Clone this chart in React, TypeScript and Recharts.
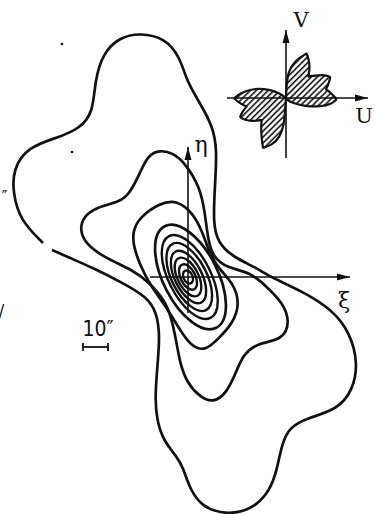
import { ScatterChart, Scatter, XAxis, YAxis } from 'recharts';

// Sky-plane isophotes, offsets from the nucleus in arcsec (ξ to the right, η up)
const outerContour = [
  { x: -54.4, y: 10.8 }, { x: -47.2, y: 7.6 }, { x: -38.0, y: 3.6 }, { x: -26.0, y: -2.4 },
  { x: -16.4, y: -8.0 }, { x: -12.4, y: -14.4 }, { x: -11.2, y: -24.0 }, { x: -12.4, y: -37.2 },
  { x: -13.2, y: -49.2 }, { x: -12.4, y: -57.2 }, { x: -10.0, y: -65.2 }, { x: -4.4, y: -72.0 },
  { x: -2.0, y: -76.0 }, { x: 0.8, y: -85.2 }, { x: 6.0, y: -92.0 }, { x: 12.8, y: -94.4 },
  { x: 20.8, y: -94.4 }, { x: 27.6, y: -91.2 }, { x: 32.8, y: -85.2 }, { x: 35.6, y: -77.2 },
  { x: 37.6, y: -66.4 }, { x: 40.8, y: -60.0 }, { x: 47.6, y: -56.4 }, { x: 59.6, y: -53.2 },
  { x: 66.0, y: -45.2 }, { x: 68.0, y: -34.4 }, { x: 64.8, y: -22.4 }, { x: 58.0, y: -13.2 },
  { x: 44.8, y: -5.2 }, { x: 32.8, y: 0.0 }, { x: 27.6, y: 3.6 }, { x: 18.0, y: 8.0 },
  { x: 12.0, y: 13.6 }, { x: 10.0, y: 21.6 }, { x: 10.8, y: 36.8 }, { x: 11.6, y: 50.8 },
  { x: 10.0, y: 60.0 }, { x: 4.8, y: 69.6 }, { x: -0.4, y: 78.0 }, { x: -3.2, y: 88.0 },
  { x: -9.2, y: 95.6 }, { x: -19.2, y: 97.6 }, { x: -27.2, y: 96.0 }, { x: -34.0, y: 89.6 },
  { x: -37.2, y: 78.8 }, { x: -38.0, y: 65.6 }, { x: -43.2, y: 59.6 }, { x: -51.2, y: 56.0 },
  { x: -64.4, y: 52.0 }, { x: -70.0, y: 42.8 }, { x: -70.0, y: 33.6 }, { x: -67.2, y: 22.8 },
  { x: -58.0, y: 13.6 },
];

const contour2 = [
  { x: -11.2, y: 50.8 }, { x: -6.0, y: 49.6 }, { x: -1.2, y: 45.6 }, { x: 4.8, y: 36.0 },
  { x: 6.8, y: 25.6 }, { x: 8.0, y: 14.8 }, { x: 10.0, y: 8.0 }, { x: 15.6, y: 3.6 },
  { x: 24.8, y: 2.0 }, { x: 31.6, y: -4.0 }, { x: 38.0, y: -10.4 }, { x: 40.8, y: -18.0 },
  { x: 38.0, y: -25.2 }, { x: 27.6, y: -26.4 }, { x: 22.0, y: -31.2 }, { x: 19.6, y: -37.2 },
  { x: 15.6, y: -46.4 }, { x: 10.0, y: -50.4 }, { x: 4.8, y: -48.0 }, { x: -0.4, y: -42.4 },
  { x: -3.2, y: -34.4 }, { x: -4.4, y: -27.2 }, { x: -6.0, y: -19.2 }, { x: -8.4, y: -10.4 },
  { x: -15.2, y: -2.4 }, { x: -22.0, y: 2.8 }, { x: -34.0, y: 8.0 }, { x: -41.2, y: 13.6 },
  { x: -43.2, y: 18.8 }, { x: -42.0, y: 24.0 }, { x: -36.4, y: 28.0 }, { x: -27.2, y: 30.0 },
  { x: -23.2, y: 33.6 }, { x: -19.2, y: 41.6 }, { x: -16.0, y: 48.8 },
];

const contour3 = [
  { x: -4.4, y: 30.8 }, { x: 2.0, y: 25.6 }, { x: 6.0, y: 17.6 }, { x: 8.8, y: 8.8 },
  { x: 12.8, y: 2.8 }, { x: 18.0, y: -2.4 }, { x: 20.8, y: -10.4 }, { x: 18.0, y: -18.4 },
  { x: 12.8, y: -24.0 }, { x: 6.8, y: -30.0 }, { x: 0.8, y: -27.2 }, { x: -3.2, y: -21.2 },
  { x: -9.2, y: -11.2 }, { x: -15.2, y: -3.2 }, { x: -19.2, y: 4.8 }, { x: -22.0, y: 12.8 },
  { x: -22.0, y: 18.8 }, { x: -19.2, y: 24.0 }, { x: -11.2, y: 29.6 },
];

const contour4 = [
  { x: 12.4, y: -22.5 }, { x: 16.7, y: -12.1 }, { x: 11.8, y: 5.5 }, { x: 0.6, y: 19.8 },
  { x: -10.4, y: 22.5 }, { x: -14.7, y: 12.1 }, { x: -9.8, y: -5.5 }, { x: 1.4, y: -19.8 },
];
const contour5 = [
  { x: 9.9, y: -18.1 }, { x: 13.1, y: -9.8 }, { x: 9.0, y: 4.2 }, { x: 0.1, y: 15.8 },
  { x: -8.5, y: 18.1 }, { x: -11.7, y: 9.8 }, { x: -7.6, y: -4.2 }, { x: 1.3, y: -15.8 },
];
const contour6 = [
  { x: 7.9, y: -14.7 }, { x: 10.6, y: -7.9 }, { x: 7.4, y: 3.5 }, { x: 0.1, y: 12.8 },
  { x: -6.9, y: 14.7 }, { x: -9.6, y: 7.9 }, { x: -6.4, y: -3.5 }, { x: 0.9, y: -12.8 },
];
const contour7 = [
  { x: 5.9, y: -11.3 }, { x: 8.0, y: -6.0 }, { x: 5.6, y: 2.7 }, { x: 0.0, y: 9.9 },
  { x: -5.5, y: 11.3 }, { x: -7.6, y: 6.0 }, { x: -5.2, y: -2.7 }, { x: 0.4, y: -9.9 },
];
const contour8 = [
  { x: 4.2, y: -8.3 }, { x: 5.9, y: -4.4 }, { x: 4.1, y: 2.1 }, { x: -0.1, y: 7.4 },
  { x: -4.2, y: 8.3 }, { x: -5.9, y: 4.4 }, { x: -4.1, y: -2.1 }, { x: 0.1, y: -7.4 },
];
const contour9 = [
  { x: 2.7, y: -5.4 }, { x: 4.0, y: -2.8 }, { x: 2.9, y: 1.5 }, { x: 0.2, y: 4.9 },
  { x: -2.7, y: 5.4 }, { x: -4.0, y: 2.8 }, { x: -2.9, y: -1.5 }, { x: -0.2, y: -4.9 },
];
const contour10 = [
  { x: 1.4, y: -2.7 }, { x: 2.2, y: -1.3 }, { x: 1.8, y: 0.9 }, { x: 0.3, y: 2.6 },
  { x: -1.4, y: 2.7 }, { x: -2.2, y: 1.3 }, { x: -1.8, y: -0.9 }, { x: -0.3, y: -2.6 },
];
const innerContours = [contour3, contour4, contour5, contour6, contour7, contour8, contour9, contour10];

const xiAxis = [{ x: -15.2, y: 0 }, { x: 64.8, y: 0 }];
const etaAxis = [{ x: 0, y: -14.4 }, { x: 0, y: 52 }];
const scaleBar = [{ x: -42, y: -28 }, { x: -32, y: -28 }];
const specks = [{ x: -50.4, y: 93.2 }, { x: -46.4, y: 50.0 }];

const axisLabels = [
  { x: 62.4, y: -9.2, text: 'ξ' },
  { x: 5.2, y: 53.2, text: 'η' },
];
const scaleLabel = [{ x: -36.0, y: -20.8, text: '10″' }];
const edgeLabels = [
  { x: -73.4, y: 32.4, text: '″' },
  { x: -74.6, y: -13.2, text: '/' },
];

// Velocity-plane inset (U, V), arbitrary units.
// Notch and tip vertices are repeated so the B-spline keeps the petal corners.
const lobeNE = [
  { x: 0, y: 0 }, { x: 0, y: 0 }, { x: 0.3, y: 7.3 }, { x: 1.2, y: 13.2 }, { x: 3.7, y: 17.3 },
  { x: 7, y: 20.3 }, { x: 10.3, y: 22.3 }, { x: 10.3, y: 22.3 }, { x: 11.5, y: 19 },
  { x: 11.9, y: 14.8 }, { x: 11.2, y: 10.7 }, { x: 11.2, y: 10.7 }, { x: 11.2, y: 10.7 },
  { x: 14.5, y: 11.2 }, { x: 18.7, y: 11.7 }, { x: 22.2, y: 10.6 }, { x: 22.2, y: 10.6 },
  { x: 21.4, y: 7.3 }, { x: 20, y: 4.3 }, { x: 20, y: 4.3 }, { x: 20, y: 4.3 },
  { x: 22.2, y: 2.8 }, { x: 25.4, y: -0.6 }, { x: 25.4, y: -0.6 }, { x: 22.8, y: -3.1 },
  { x: 17, y: -4.4 }, { x: 9.5, y: -4.1 }, { x: 3.7, y: -2.7 }, { x: 0.3, y: -1 },
];
const lobeSW = [
  { x: 0, y: 0 }, { x: 0, y: 0 }, { x: -0.5, y: -6 }, { x: -1, y: -13.5 }, { x: -3, y: -19.5 },
  { x: -7, y: -23.5 }, { x: -11.5, y: -25 }, { x: -11.5, y: -25 }, { x: -12.2, y: -20 },
  { x: -12.5, y: -15 }, { x: -12.2, y: -11 }, { x: -12.2, y: -11 }, { x: -12.2, y: -11 },
  { x: -16, y: -11.6 }, { x: -20, y: -11.2 }, { x: -23, y: -9.6 }, { x: -23, y: -9.6 },
  { x: -21.7, y: -6.6 }, { x: -19.7, y: -4.3 }, { x: -19.7, y: -4.3 }, { x: -19.7, y: -4.3 },
  { x: -23, y: -2.7 }, { x: -26, y: -0.2 }, { x: -26, y: -0.2 }, { x: -23, y: 2.4 },
  { x: -16.4, y: 4.9 }, { x: -8, y: 4.3 }, { x: -3, y: 2.3 },
];
const uAxis = [{ x: -29.5, y: 0 }, { x: 41, y: 0 }];
const vAxis = [{ x: 0, y: -30 }, { x: 0, y: 34 }];
const uvLabels = [
  { x: 7.5, y: 39, text: 'V' },
  { x: 39, y: -9, text: 'U' },
];

const noDot = () => <g />;
const contourLine = { stroke: '#111', strokeWidth: 2.7, fill: 'none' };
const thinLine = { stroke: '#111', strokeWidth: 1.6, fill: 'none' };
const lobeLine = { stroke: '#111', strokeWidth: 2.2, strokeLinejoin: 'round', fill: 'url(#hatch)' };

const arrowRight = (p: any) => (
  <path d={`M${p.cx},${p.cy} l-13,-3.5 l0,7 z`} fill="#111" />
);
const arrowUp = (p: any) => (
  <path d={`M${p.cx},${p.cy} l-3.5,13 l7,0 z`} fill="#111" />
);
const barEnd = (p: any) => (
  <line x1={p.cx} x2={p.cx} y1={p.cy - 4} y2={p.cy + 4} stroke="#111" strokeWidth={1.8} />
);
const speck = (p: any) => <circle cx={p.cx} cy={p.cy} r={1.3} fill="#111" />;

const textShape = (size: number, family: string) => (p: any) => (
  <text
    x={p.cx}
    y={p.cy}
    fontSize={size}
    fontFamily={family}
    textAnchor="middle"
    dominantBaseline="central"
    fill="#111"
  >
    {p.payload.text}
  </text>
);

const serif = '"DejaVu Serif", "Liberation Serif", serif';
const narrow = '"Liberation Sans Narrow", "DejaVu Sans Condensed", sans-serif';

export default function App() {
  return (
    <div style={{ position: 'absolute', left: 0, top: 0, width: 375, height: 514, background: '#fff' }}>
      <ScatterChart width={375} height={514} margin={{ top: 0, right: 0, bottom: 0, left: 0 }}>
        <defs>
          <pattern id="hatch" width="4.2" height="4.2" patternUnits="userSpaceOnUse" patternTransform="rotate(45)">
            <line x1="1.5" y1="0" x2="1.5" y2="4.2" stroke="#111" strokeWidth="1.6" />
          </pattern>
        </defs>
        <XAxis xAxisId="sky" type="number" dataKey="x" domain={[-75.2, 74.8]} allowDataOverflow hide />
        <YAxis yAxisId="sky" type="number" dataKey="y" domain={[-94.8, 110.8]} allowDataOverflow hide />
        <XAxis xAxisId="uv" type="number" dataKey="x" domain={[-143, 44.5]} allowDataOverflow hide />
        <YAxis yAxisId="uv" type="number" dataKey="y" domain={[-208, 49]} allowDataOverflow hide />

        <Scatter xAxisId="sky" yAxisId="sky" data={outerContour} line={contourLine} lineJointType="basis" shape={noDot} isAnimationActive={false} />
        <Scatter xAxisId="sky" yAxisId="sky" data={contour2} line={contourLine} lineJointType="basisClosed" shape={noDot} isAnimationActive={false} />
        {innerContours.map((c, i) => (
          <Scatter
            key={`ring-${i}`}
            xAxisId="sky"
            yAxisId="sky"
            data={c}
            line={i < 2 ? contourLine : { ...contourLine, strokeWidth: 2.4 }}
            lineJointType="basisClosed"
            shape={noDot}
            isAnimationActive={false}
          />
        ))}

        <Scatter xAxisId="sky" yAxisId="sky" data={xiAxis} line={thinLine} shape={noDot} isAnimationActive={false} />
        <Scatter xAxisId="sky" yAxisId="sky" data={[xiAxis[1]]} shape={arrowRight} isAnimationActive={false} />
        <Scatter xAxisId="sky" yAxisId="sky" data={etaAxis} line={thinLine} shape={noDot} isAnimationActive={false} />
        <Scatter xAxisId="sky" yAxisId="sky" data={[etaAxis[1]]} shape={arrowUp} isAnimationActive={false} />
        <Scatter xAxisId="sky" yAxisId="sky" data={scaleBar} line={{ ...thinLine, strokeWidth: 1.8 }} shape={barEnd} isAnimationActive={false} />
        <Scatter xAxisId="sky" yAxisId="sky" data={specks} shape={speck} isAnimationActive={false} />
        <Scatter xAxisId="sky" yAxisId="sky" data={axisLabels} shape={textShape(22, serif)} isAnimationActive={false} />
        <Scatter xAxisId="sky" yAxisId="sky" data={scaleLabel} shape={textShape(21, narrow)} isAnimationActive={false} />
        <Scatter xAxisId="sky" yAxisId="sky" data={edgeLabels} shape={textShape(18, narrow)} isAnimationActive={false} />

        <Scatter xAxisId="uv" yAxisId="uv" data={lobeNE} line={lobeLine} lineJointType="basisClosed" shape={noDot} isAnimationActive={false} />
        <Scatter xAxisId="uv" yAxisId="uv" data={lobeSW} line={lobeLine} lineJointType="basisClosed" shape={noDot} isAnimationActive={false} />
        <Scatter xAxisId="uv" yAxisId="uv" data={uAxis} line={thinLine} shape={noDot} isAnimationActive={false} />
        <Scatter xAxisId="uv" yAxisId="uv" data={[uAxis[1]]} shape={arrowRight} isAnimationActive={false} />
        <Scatter xAxisId="uv" yAxisId="uv" data={vAxis} line={thinLine} shape={noDot} isAnimationActive={false} />
        <Scatter xAxisId="uv" yAxisId="uv" data={[vAxis[1]]} shape={arrowUp} isAnimationActive={false} />
        <Scatter xAxisId="uv" yAxisId="uv" data={uvLabels} shape={textShape(21, serif)} isAnimationActive={false} />
      </ScatterChart>
    </div>
  );
}
